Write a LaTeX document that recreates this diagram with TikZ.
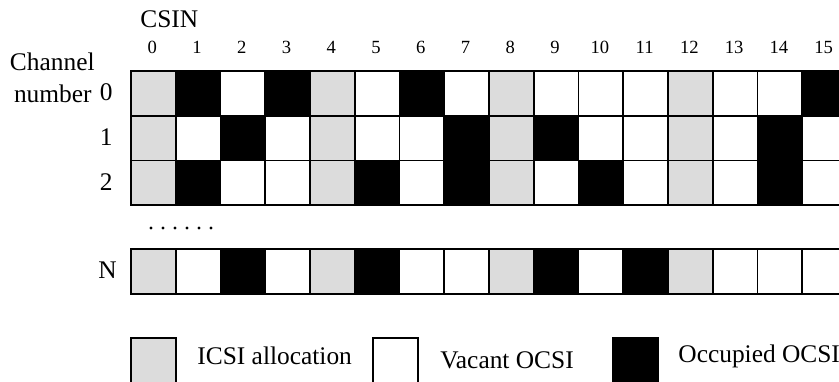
\documentclass[tikz,border=0pt]{standalone}
\usepackage{fontspec}
\setmainfont{Liberation Serif}
\usetikzlibrary{positioning}

\definecolor{G}{RGB}{220,220,220}
\colorlet{W}{white}
\colorlet{B}{black}

\begin{document}
\begin{tikzpicture}[x=0.5pt, y=-0.5pt, font=\fontsize{12.7}{16}\selectfont]

    % --- Parameters ---
    \def\W{44.75}     % cell size (px)
    \def\X{130}       % left edge of the grid
    \def\rowA{G,B,W,B,G,W,B,W,G,W,W,W,G,W,W,B}
    \def\rowB{G,W,B,W,G,W,W,B,G,B,W,W,G,W,B,W}
    \def\rowC{G,B,W,W,G,B,W,B,G,W,B,W,G,W,B,W}
    \def\rowN{G,W,B,W,G,B,W,W,G,B,W,B,G,W,W,W}

    \useasboundingbox (0,0) rectangle (839,381);

    % --- Styles ---
    \tikzstyle{cell} = [draw=black, line width=0.9pt, minimum width=22.375pt, minimum height=22.375pt, inner sep=0pt, anchor=north west]
    \tikzstyle{colnum} = [font=\fontsize{9.3}{11}\selectfont, anchor=base]
    \tikzstyle{rowlab} = [anchor=east, inner sep=0pt]

    % --- Header ---
    \node[anchor=base west, inner sep=0pt] (csin) at (140,27) {CSIN};
    \node[anchor=base east, inner sep=0pt] (chan) at (95,70) {Channel};
    \node[anchor=base east, inner sep=0pt] (numb) at (92,102) {number};
    \foreach \c in {0,...,15}
        \node[colnum] (n\c) at (\X+\W*\c+\W/2,53) {\c};

    % --- Channel rows ---
    \foreach \s [count=\c from 0] in \rowA
        \node[cell, fill=\s] (r0c\c) at (\X+\W*\c,70) {};
    \foreach \s [count=\c from 0] in \rowB
        \node[cell, fill=\s] (r1c\c) at (\X+\W*\c,70+\W) {};
    \foreach \s [count=\c from 0] in \rowC
        \node[cell, fill=\s] (r2c\c) at (\X+\W*\c,70+2*\W) {};
    \foreach \s [count=\c from 0] in \rowN
        \node[cell, fill=\s] (rNc\c) at (\X+\W*\c,248) {};

    % Labels
    \node[rowlab] (l0) at (113,70+\W/2) {0};
    \node[rowlab] (l1) at (113,70+1.5*\W) {1};
    \node[rowlab] (l2) at (113,70+2.5*\W) {2};
    \node[rowlab] (lN) at (117,248+\W/2) {N};

    % dots
    \foreach \k in {0,...,5}
        \fill (151+12*\k,228) circle (1.6);

    % --- Legend ---
    \node[cell, fill=G] (keyI) at (130,337) {};
    \node[cell, fill=W] (keyV) at (372,337) {};
    \node[cell, fill=B] (keyO) at (612,337) {};
    \node[anchor=base west, inner sep=0pt] (txtI) at (197,364) {ICSI allocation};
    \node[anchor=base west, inner sep=0pt] (txtV) at (440,368) {Vacant OCSI};
    \node[anchor=base west, inner sep=0pt] (txtO) at (678,362) {Occupied OCSI};

\end{tikzpicture}
\end{document}
